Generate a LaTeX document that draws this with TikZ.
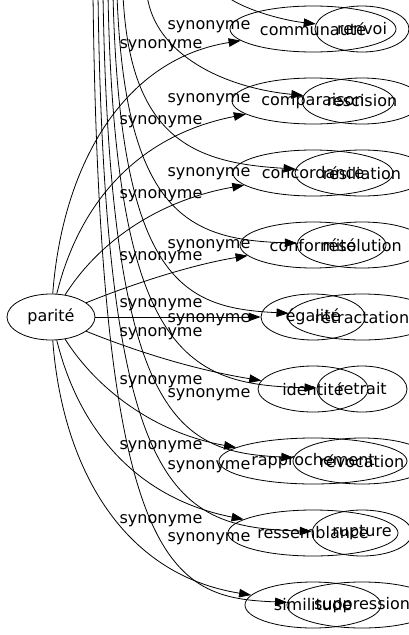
\documentclass[tikz,border=0pt]{standalone}
\usepackage{fontspec}
\setmainfont{DejaVu Sans}
\usetikzlibrary{arrows.meta,shapes.geometric}

\tikzset{
  word/.style={draw, ellipse, minimum height=46pt, inner sep=0pt, line width=0.8pt},
  syn/.style={draw, line width=0.8pt, -{Triangle[length=12pt,width=8.5pt]}},
  rel/.style={inner sep=0pt},
}

\begin{document}
\begin{tikzpicture}[x=1pt,y=-1pt,font=\fontsize{16}{19}\selectfont]
    \useasboundingbox (0,0) rectangle (409,635);
    \clip (0,0) rectangle (409,635);

    %Shape: Ellipse [source]
    \node [word, minimum width=88pt] (parite) at (51,317) {parité};

    %Shape: Ellipse [first rank]
    \node [word, minimum width=166pt] (communaute) at (313,29) {communauté};
    \node [word, minimum width=162pt] (comparaison) at (313,101) {comparaison};
    \node [word, minimum width=160pt] (concordance) at (313,173) {concordance};
    \node [word, minimum width=146pt] (conformite) at (313,245) {conformité};
    \node [word, minimum width=104pt] (egalite) at (313,317) {égalité};
    \node [word, minimum width=110pt] (identite) at (313,389) {identité};
    \node [word, minimum width=188pt] (rapprochement) at (313,461) {rapprochement};
    \node [word, minimum width=170pt] (ressemblance) at (313,533) {ressemblance};
    \node [word, minimum width=136pt] (similitude) at (313,605) {similitude};

    %Shape: Ellipse [second rank]
    \node [word, minimum width=94pt] (renvoi) at (362,29) {renvoi};
    \node [word, minimum width=120pt] (rescision) at (362,101) {rescision};
    \node [word, minimum width=134pt] (resiliation) at (362,173) {résiliation};
    \node [word, minimum width=130pt] (resolution) at (362,245) {résolution};
    \node [word, minimum width=148pt] (retractation) at (362,317) {rétractation};
    \node [word, minimum width=90pt] (retrait) at (362,389) {retrait};
    \node [word, minimum width=138pt] (revocation) at (362,461) {révocation};
    \node [word, minimum width=100pt] (rupture) at (362,533) {rupture};
    \node [word, minimum width=150pt] (suppression) at (362,605) {suppression};

    % edges coming in from above the frame
    \coordinate (in-renvoi) at (225,-5);
    \coordinate (in-rescision) at (147,-5);
    \coordinate (in-resiliation) at (123,-5);
    \coordinate (in-resolution) at (117,-5);
    \coordinate (in-retractation) at (113,-5);
    \coordinate (in-retrait) at (108,-5);
    \coordinate (in-revocation) at (103,-5);
    \coordinate (in-rupture) at (98,-5);
    \coordinate (in-suppression) at (93,-5);

    %Curve Lines [from parite]
    \draw [syn] (parite) .. controls (62,170) and (120,60) .. (communaute);
    \draw [syn] (parite) .. controls (80,200) and (140,135) .. (comparaison);
    \draw [syn] (parite) .. controls (100,240) and (160,200) .. (concordance);
    \draw [syn] (parite) .. controls (130,285) and (190,265) .. (conformite);
    \draw [syn] (parite) -- (egalite);
    \draw [syn] (parite) .. controls (130,349) and (190,369) .. (identite);
    \draw [syn] (parite) .. controls (100,394) and (160,434) .. (rapprochement);
    \draw [syn] (parite) .. controls (80,434) and (140,499) .. (ressemblance);
    \draw [syn] (parite) .. controls (62,464) and (120,574) .. (similitude);

    %Curve Lines [from above]
    \draw [syn] (in-renvoi) .. controls (240,8) and (280,20) .. (renvoi);
    \draw [syn] (in-rescision) .. controls (155,55) and (225,88) .. (rescision);
    \draw [syn] (in-resiliation) .. controls (130,140) and (195,163) .. (resiliation);
    \draw [syn] (in-resolution) .. controls (125,215) and (190,240) .. (resolution);
    \draw [syn] (in-retractation) .. controls (120,285) and (185,308) .. (retractation);
    \draw [syn] (in-retrait) .. controls (115,360) and (190,385) .. (retrait);
    \draw [syn] (in-revocation) .. controls (110,425) and (180,452) .. (revocation);
    \draw [syn] (in-rupture) .. controls (105,500) and (175,527) .. (rupture);
    \draw [syn] (in-suppression) .. controls (100,570) and (170,598) .. (suppression);

    % Text Node
    \node [rel] (syn1a) at (209,27) {synonyme};
    \node [rel] (syn1b) at (161,46) {synonyme};
    \node [rel] (syn2a) at (209,100) {synonyme};
    \node [rel] (syn2b) at (161,122) {synonyme};
    \node [rel] (syn3a) at (209,174) {synonyme};
    \node [rel] (syn3b) at (161,196) {synonyme};
    \node [rel] (syn4a) at (209,246) {synonyme};
    \node [rel] (syn4b) at (161,258) {synonyme};
    \node [rel] (syn5a) at (161,305) {synonyme};
    \node [rel] (syn5b) at (209,320) {synonyme};
    \node [rel] (syn5c) at (161,334) {synonyme};
    \node [rel] (syn6a) at (161,382) {synonyme};
    \node [rel] (syn6b) at (209,395) {synonyme};
    \node [rel] (syn7a) at (161,447) {synonyme};
    \node [rel] (syn7b) at (209,467) {synonyme};
    \node [rel] (syn8a) at (161,521) {synonyme};
    \node [rel] (syn8b) at (209,539) {synonyme};

\end{tikzpicture}
\end{document}
